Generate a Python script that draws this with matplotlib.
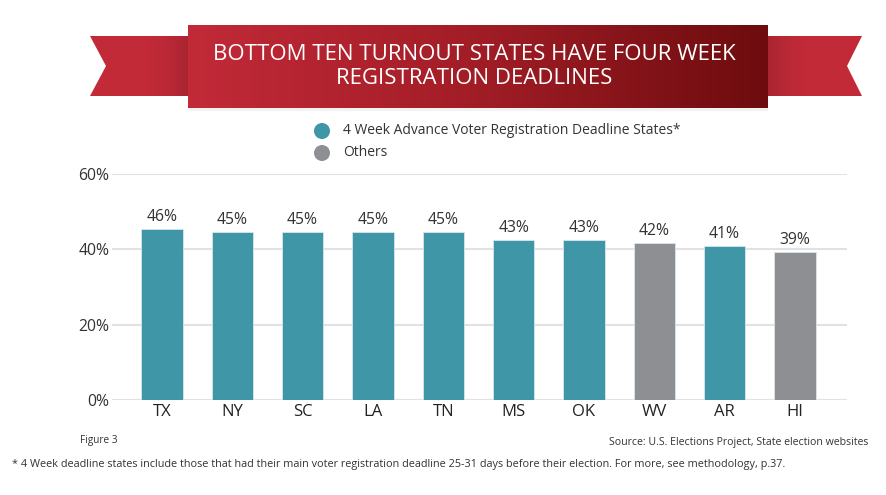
import numpy as np
import matplotlib.pyplot as plt
from matplotlib.patches import Polygon, Rectangle, Circle
from matplotlib.colors import LinearSegmentedColormap

states = ["TX", "NY", "SC", "LA", "TN", "MS", "OK", "WV", "AR", "HI"]
turnout = [45.5, 44.7, 44.7, 44.7, 44.7, 42.6, 42.6, 41.7, 40.9, 39.3]
labels = ["46%", "45%", "45%", "45%", "45%", "43%", "43%", "42%", "41%", "39%"]
four_week = [True, True, True, True, True, True, True, False, True, False]
y_ticks = [0, 20, 40, 60]

TEAL = "#3e96a6"
GRAY = "#8e8f93"
TXT = "#333333"
SANS = ["Open Sans", "DejaVu Sans"]

W, H = 886, 495
fig = plt.figure(figsize=(W / 100, H / 100), dpi=100)
fig.patch.set_facecolor("white")

# overlay in pixel coordinates for the banner and notes
ov = fig.add_axes([0, 0, 1, 1])
ov.axis("off")

# ribbon tails
red = "#c22a38"
left_tail = Polygon([(90, 36), (188, 36), (188, 96), (90, 96), (106, 66)],
                    closed=True, facecolor=red, edgecolor="none", zorder=1)
right_tail = Polygon([(768, 36), (862, 36), (847, 66), (862, 96), (768, 96)],
                     closed=True, facecolor=red, edgecolor="none", zorder=1)
ov.add_patch(left_tail)
ov.add_patch(right_tail)

# soft darkening of the tails towards the centre panel
ramp = np.zeros((1, 100, 4))
ramp[0, :, 3] = 0.13 * np.linspace(0, 1, 100) ** 2
ov.imshow(ramp, extent=(140, 188, 96, 36), aspect="auto", zorder=1.5,
          interpolation="bilinear")
ov.imshow(ramp[:, ::-1, :], extent=(768, 815, 96, 36), aspect="auto", zorder=1.5,
          interpolation="bilinear")

# shadow under central panel
ov.add_patch(Rectangle((190, 106), 578, 5, facecolor="#000000", alpha=0.05,
                       edgecolor="none", zorder=1))

# central panel with horizontal gradient
cmap = LinearSegmentedColormap.from_list("ban", ["#c22a38", "#a11d26", "#6d0c0e"])
grad = np.linspace(0, 1, 256)[None, :]
ov.imshow(grad, extent=(188, 768, 108, 25), cmap=cmap, aspect="auto", zorder=2)
ov.set_xlim(0, W)
ov.set_ylim(H, 0)

ov.text(474, 55, "BOTTOM TEN TURNOUT STATES HAVE FOUR WEEK", color="white",
        fontsize=16, family=SANS, ha="center", va="center", zorder=3)
ov.text(474, 78, "REGISTRATION DEADLINES", color="white",
        fontsize=16, family=SANS, ha="center", va="center", zorder=3)

# legend
ov.add_patch(Circle((322, 131), 8, facecolor=TEAL, edgecolor="none"))
ov.add_patch(Circle((322, 153), 8, facecolor=GRAY, edgecolor="none"))
ov.text(343, 130, "4 Week Advance Voter Registration Deadline States*", color=TXT,
        fontsize=10.0, family=SANS, va="center")
ov.text(343, 152, "Others", color=TXT, fontsize=10.0, family=SANS, va="center")

# notes
ov.text(80, 441, "Figure 3", color=TXT, fontsize=7.2, family=SANS, va="center")
ov.text(868, 442, "Source: U.S. Elections Project, State election websites", color=TXT,
        fontsize=7.6, family=SANS, va="center", ha="right")
ov.text(12, 465, "* 4 Week deadline states include those that had their main voter registration "
        "deadline 25-31 days before their election. For more, see methodology, p.37.",
        color=TXT, fontsize=7.8, family=SANS, va="center")

# bar chart
ax = fig.add_axes([112 / W, 1 - 400 / H, (847 - 112) / W, (400 - 174) / H])
x = np.arange(len(states))
colors = [TEAL if f else GRAY for f in four_week]
ax.bar(x, turnout, width=0.59, color=colors, edgecolor="#d8e6ea", linewidth=0.6, zorder=3)
for xi, v, lab in zip(x, turnout, labels):
    ax.text(xi, v + 1.0, lab, ha="center", va="bottom", fontsize=11.3, color=TXT,
            family=SANS)

ax.set_xlim(-0.71, 9.74)
ax.set_ylim(0, 60)
ax.set_yticks(y_ticks)
ax.set_yticklabels([f"{t}%" for t in y_ticks], family=SANS, fontsize=11.3, color=TXT)
ax.set_xticks(x)
ax.set_xticklabels(states, family=SANS, fontsize=12, color="#222222")
ax.tick_params(length=0, pad=3)
ax.tick_params(axis="y", pad=2)
ax.grid(axis="y", color="#e2e2e2", linewidth=1.5, zorder=0)
for s in ax.spines.values():
    s.set_visible(False)
ax.patch.set_alpha(0)

fig.savefig("out.png", dpi=100)
